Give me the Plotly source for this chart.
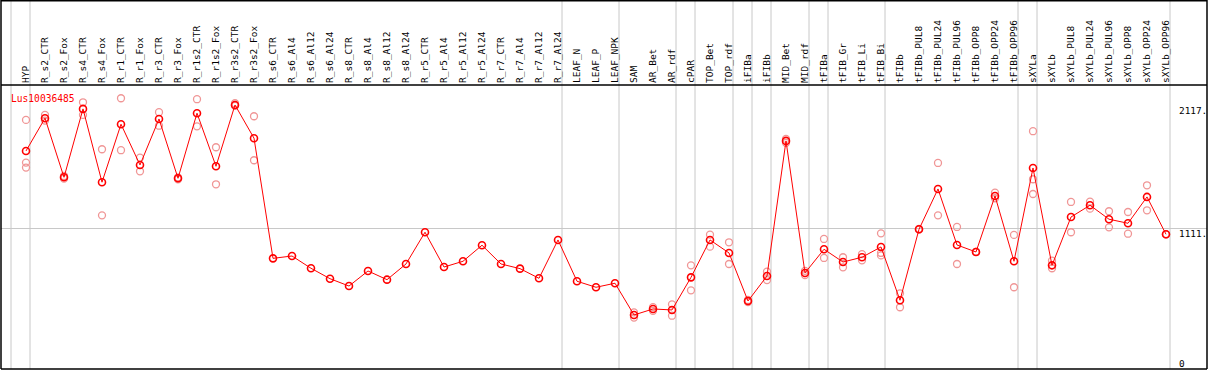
import plotly.graph_objects as go

categories = ["HYP", "R_s2_CTR", "R_s2_Fox", "R_s4_CTR", "R_s4_Fox", "R_r1_CTR", "R_r1_Fox",
              "R_r3_CTR", "R_r3_Fox", "R_r1s2_CTR", "R_r1s2_Fox", "R_r3s2_CTR", "R_r3s2_Fox",
              "R_s6_CTR", "R_s6_Al4", "R_s6_Al12", "R_s6_Al24", "R_s8_CTR", "R_s8_Al4",
              "R_s8_Al12", "R_s8_Al24", "R_r5_CTR", "R_r5_Al4", "R_r5_Al12", "R_r5_Al24",
              "R_r7_CTR", "R_r7_Al4", "R_r7_Al12", "R_r7_Al24", "LEAF_N", "LEAF_P", "LEAF_NPK",
              "SAM", "AR_Bet", "AR_rdf", "cPAR", "TOP_Bet", "TOP_rdf", "iFIBa", "iFIBb",
              "MID_Bet", "MID_rdf", "tFIBa", "tFIB_Gr", "tFIB_Li", "tFIB_Bi", "tFIBb",
              "tFIBb_PUL8", "tFIBb_PUL24", "tFIBb_PUL96", "tFIBb_OPP8", "tFIBb_OPP24",
              "tFIBb_OPP96", "sXYLa", "sXYLb", "sXYLb_PUL8", "sXYLb_PUL24", "sXYLb_PUL96",
              "sXYLb_OPP8", "sXYLb_OPP24", "sXYLb_OPP96"]

means = [1742, 2009, 1527, 2085, 1487, 1960, 1628,
         2003, 1519, 2050, 1617, 2117, 1846,
         866, 885, 785, 700, 640, 763,
         692, 820, 1079, 795, 842, 973,
         820, 782, 703, 1016, 679, 630, 663,
         404, 453, 445, 711, 1016, 910, 518, 722,
         1824, 747, 940, 836, 875, 959, 524,
         1103, 1432, 975, 918, 1375,
         842, 1603, 809, 1203, 1299, 1185,
         1152, 1367, 1062]

replicates = [[1995, 1647, 1606], [2036, 1990], [1538, 1516], [2139, 2036], [1756, 1217],
              [2172, 1748], [1687, 1576], [2058, 1948], [1527, 1511], [2164, 1943],
              [1772, 1470], [2131, 2110], [2025, 1666],
              [], [], [], [], [], [], [], [], [], [], [], [], [], [], [], [],
              [], [], [],
              [425, 383], [468, 438], [491, 398], [809, 605], [1059, 961], [997, 820],
              [526, 510], [757, 689], [1840, 1808], [730, 764],
              [1024, 869], [875, 793], [900, 850], [1070, 910, 890], [581, 467],
              [1100, 1106], [1644, 1217], [1122, 820], [918, 918], [1402, 1356],
              [1057, 630], [1903, 1511, 1391], [847, 785], [1326, 1079], [1328, 1271],
              [1250, 1119], [1244, 1067], [1462, 1258], [1062, 1062]]

separator_after = [-1, 0, 28, 31, 34, 35, 37, 38, 39, 41, 42, 45, 52, 53, 60]
title_text = "Lus10036485"
y_labels = [2117, 1111, 0]
y_label_text = ["2117.", "1111.", "0"]

W, H = 1209, 370
ML, MR, MT, MB = 1, 2, 85, 1
plot_w = W - ML - MR
plot_h = H - MT - MB
XMIN = -25 / 19
XMAX = XMIN + plot_w / 19
YMIN, YMAX = -36.7, 2280.0
FONT = "DejaVu Sans Mono"
GRAY = "#c8c8c8"

rep_x, rep_y = [], []
for c, reps in zip(categories, replicates):
    for r in reps:
        rep_x.append(c)
        rep_y.append(r)

fig = go.Figure()
fig.add_trace(go.Scatter(
    x=rep_x, y=rep_y, mode="markers",
    marker=dict(symbol="circle-open", size=7, color="rgb(240,150,150)",
                line=dict(width=1.3, color="rgb(240,150,150)")),
    hoverinfo="skip", showlegend=False))
fig.add_trace(go.Scatter(
    x=categories, y=means, mode="lines+markers",
    line=dict(color="#ff0000", width=1),
    marker=dict(symbol="circle-open", size=7, color="#ff0000",
                line=dict(width=1.6, color="#ff0000")),
    showlegend=False))

top_paper = 1 + MT / plot_h
shapes = []
for s in separator_after:
    xp = (s + 4 / 19 - XMIN) / (XMAX - XMIN)
    shapes.append(dict(type="line", xref="paper", yref="paper", x0=xp, x1=xp,
                       y0=0, y1=top_paper, line=dict(color=GRAY, width=1), layer="below"))
# frame
shapes.append(dict(type="line", xref="paper", yref="paper", x0=0, x1=1, y0=1, y1=1,
                   line=dict(color="black", width=1.5)))
shapes.append(dict(type="line", xref="paper", yref="paper", x0=0, x1=1, y0=top_paper - 0.002,
                   y1=top_paper - 0.002, line=dict(color="black", width=2)))
shapes.append(dict(type="line", xref="paper", yref="paper", x0=0, x1=1, y0=0, y1=0,
                   line=dict(color="black", width=1.5)))
shapes.append(dict(type="line", xref="paper", yref="paper", x0=0, x1=0, y0=0, y1=top_paper,
                   line=dict(color="black", width=1.5)))
shapes.append(dict(type="line", xref="paper", yref="paper", x0=1, x1=1, y0=0, y1=top_paper,
                   line=dict(color="black", width=1.5)))

annotations = [dict(text=title_text, xref="paper", yref="paper",
                    x=(9 - ML) / plot_w, y=1 - (91 - MT) / plot_h,
                    xanchor="left", yanchor="top", showarrow=False,
                    font=dict(family=FONT, size=9.6, color="#ff0000"))]
for v, t in zip(y_labels, y_label_text):
    annotations.append(dict(text=t, xref="paper", yref="y", x=(1177 - ML) / plot_w, y=v,
                            xanchor="left", yanchor="top" if v > 0 else "middle",
                            yshift=2 if v > 0 else 1,
                            showarrow=False, font=dict(family=FONT, size=9.4, color="black")))

fig.update_layout(
    width=W, height=H,
    margin=dict(l=ML, r=MR, t=MT, b=MB, pad=0),
    paper_bgcolor="white", plot_bgcolor="white",
    shapes=shapes, annotations=annotations,
    xaxis=dict(type="category", categoryorder="array", categoryarray=categories,
               range=[XMIN, XMAX], side="top", tickangle=-90, ticks="",
               tickfont=dict(family=FONT, size=9.5, color="black"),
               showgrid=False, zeroline=False, showline=False, ticklabelstandoff=1),
    yaxis=dict(range=[YMIN, YMAX], tickvals=[1111], showticklabels=False,
               showgrid=True, gridcolor=GRAY, gridwidth=1, zeroline=False, showline=False),
)

fig.write_html("out.html", config={"displayModeBar": False},
               post_script="document.body.style.margin='0';document.body.style.padding='0';")
